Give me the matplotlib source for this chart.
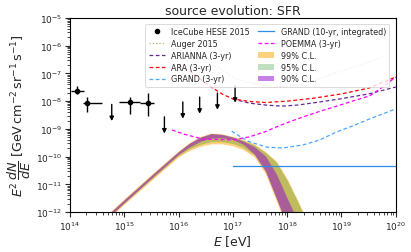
import numpy as np
import matplotlib
matplotlib.use("Agg")
import matplotlib.pyplot as plt
from matplotlib.lines import Line2D

# IceCube HESE 2015 data points (E in eV, E^2 dN/dE in GeV cm^-2 sr^-1 s^-1)
hese_E = [1.35e14, 2.1e14, 1.26e15, 2.7e15]
hese_E_lo = [1.05e14, 1.75e14, 7.9e14, 1.95e15]
hese_E_hi = [1.8e14, 3.9e14, 1.95e15, 3.55e15]
hese_flux = [2.4e-8, 8.3e-9, 9.3e-9, 8.5e-9]
hese_flux_lo = [1.8e-8, 4.1e-9, 3.5e-9, 2.9e-9]
hese_flux_hi = [3.5e-8, 1.4e-8, 1.4e-8, 1.95e-8]

# HESE upper limits
ul_E = [5.9e14, 5.5e15, 1.2e16, 2.45e16, 5.2e16, 1.1e17]
ul_flux = [7.6e-9, 2.7e-9, 9.3e-9, 1.4e-8, 1.95e-8, 3.5e-8]

# sensitivities / limits (log10 E, log10 flux)
auger_logE = [16.5, 16.71, 17.07, 17.4, 17.74, 18.1, 18.5, 18.84, 19.3, 19.76]
auger_logF = [-6.6, -6.77, -7.2, -7.38, -7.49, -7.45, -7.25, -7.02, -6.72, -6.41]

arianna_logE = [17.0, 17.3, 17.6, 17.9, 18.2, 18.6, 19.0, 19.5, 20.0]
arianna_logF = [-7.92, -8.07, -8.14, -8.18, -8.14, -8.03, -7.91, -7.74, -7.49]

ara_logE = [16.0, 16.2, 16.4, 16.6, 16.8, 17.0, 17.3, 17.6, 18.0, 18.5, 19.0, 19.5, 20.0]
ara_logF = [-6.7, -6.91, -7.2, -7.49, -7.74, -7.92, -8.01, -8.05, -8.0, -7.89, -7.74, -7.53, -7.13]

grand3_logE = [16.98, 17.15, 17.31, 17.63, 17.92, 18.29, 18.6, 18.91, 19.2, 19.52, 20.0]
grand3_logF = [-9.08, -9.3, -9.47, -9.66, -9.69, -9.58, -9.4, -9.11, -8.9, -8.64, -8.28]

grand10_E = [1e17, 1e20]
grand10_flux = [4.5e-11, 4.5e-11]

poemma_logE = [15.88, 16.1, 16.45, 16.7, 17.0, 17.3, 17.6, 17.9, 18.29, 18.6, 18.91, 19.2, 19.52, 19.76, 20.0]
poemma_logF = [-9.04, -9.19, -9.37, -9.38, -9.4, -9.29, -9.1, -8.85, -8.57, -8.37, -8.18, -8.0, -7.81, -7.49, -7.13]

# model confidence bands (log10 E grid, log10 flux edges)
band_logE = [14.6, 15.0, 15.5, 16.0, 16.2, 16.4, 16.6, 16.8, 17.0, 17.2, 17.4, 17.6, 17.8, 18.0, 18.2, 18.4]
cl90_hi = [-12.28, -11.56, -10.68, -9.82, -9.52, -9.30, -9.17, -9.20, -9.30, -9.45, -9.65, -9.98, -10.62, -11.5, -12.35, -13.2]
cl90_lo = [-12.38, -11.66, -10.78, -9.92, -9.65, -9.45, -9.33, -9.32, -9.38, -9.57, -9.92, -10.52, -11.5, -12.5, -13.5, -14.5]
cl95_hi = [-12.28, -11.56, -10.68, -9.82, -9.52, -9.30, -9.17, -9.20, -9.29, -9.42, -9.58, -9.85, -10.2, -10.85, -11.65, -12.5]
cl95_lo = [-12.40, -11.68, -10.81, -9.96, -9.72, -9.56, -9.46, -9.46, -9.53, -9.68, -9.95, -10.52, -11.5, -12.5, -13.5, -14.5]
cl99_hi = [-12.24, -11.52, -10.64, -9.79, -9.49, -9.27, -9.15, -9.18, -9.27, -9.39, -9.55, -9.82, -10.16, -10.8, -11.6, -12.45]
cl99_lo = [-12.44, -11.72, -10.86, -10.01, -9.78, -9.63, -9.54, -9.54, -9.61, -9.76, -10.02, -10.62, -11.6, -12.6, -13.6, -14.6]

text_c = "#262626"
plt.rcParams.update({
    "font.family": "DejaVu Sans",
    "font.size": 7,
    "text.color": text_c,
    "axes.labelcolor": text_c,
    "xtick.color": text_c,
    "ytick.color": text_c,
    "axes.linewidth": 0.8,
})

fig = plt.figure(figsize=(4.11, 2.53), dpi=100)
ax = fig.add_axes([0.170, 0.158, 0.793, 0.767])

bE = 10 ** np.array(band_logE)
ax.fill_between(bE, 10 ** np.array(cl99_lo), 10 ** np.array(cl99_hi),
                color="orange", alpha=0.5, lw=0, label="99% C.L.")
ax.fill_between(bE, 10 ** np.array(cl95_lo), 10 ** np.array(cl95_hi),
                color="green", alpha=0.25, lw=0, label="95% C.L.")
ax.fill_between(bE, 10 ** np.array(cl90_lo), 10 ** np.array(cl90_hi),
                color="darkviolet", alpha=0.5, lw=0, label="90% C.L.")

# HESE points
xerr = [np.array(hese_E) - np.array(hese_E_lo), np.array(hese_E_hi) - np.array(hese_E)]
yerr = [np.array(hese_flux) - np.array(hese_flux_lo), np.array(hese_flux_hi) - np.array(hese_flux)]
ax.errorbar(hese_E, hese_flux, xerr=xerr, yerr=yerr, fmt="o", color="black",
            ms=3, elinewidth=1, capsize=0)
for e, f in zip(ul_E, ul_flux):
    ax.annotate("", xy=(e, f * 10 ** -0.6), xytext=(e, f),
                arrowprops=dict(arrowstyle="-|>", color="black", lw=1,
                                mutation_scale=6, shrinkA=0, shrinkB=0))
hese_handle = Line2D([], [], ls="none", marker="o", ms=3, color="black")

ax.plot(10 ** np.array(auger_logE), 10 ** np.array(auger_logF), ls=":", color="olivedrab",
        lw=0.9, alpha=0.6, label="Auger 2015")
ax.plot(10 ** np.array(arianna_logE), 10 ** np.array(arianna_logF), ls="--", color="indigo",
        lw=0.9, alpha=0.85, dashes=(3, 2), label="ARIANNA (3-yr)")
ax.plot(10 ** np.array(ara_logE), 10 ** np.array(ara_logF), ls="--", color="red",
        lw=0.9, dashes=(3, 2), label="ARA (3-yr)")
ax.plot(10 ** np.array(grand3_logE), 10 ** np.array(grand3_logF), ls="--", color="dodgerblue",
        lw=0.9, alpha=0.8, dashes=(3, 2), label="GRAND (3-yr)")
ax.plot(grand10_E, grand10_flux, color="#2f8ce6", lw=0.9, label="GRAND (10-yr, integrated)")
ax.plot(10 ** np.array(poemma_logE), 10 ** np.array(poemma_logF), ls="--", color="magenta",
        lw=0.9, dashes=(3, 2), label="POEMMA (3-yr)")

ax.set_xscale("log")
ax.set_yscale("log")
ax.set_xlim(1e14, 1e20)
ax.set_ylim(1e-12, 1e-5)
ax.tick_params(which="major", length=3.5, width=0.8, labelsize=6.5, pad=2)
ax.tick_params(which="minor", length=2, width=0.6)
ax.yaxis.set_minor_locator(matplotlib.ticker.LogLocator(base=10, subs=np.arange(2, 10), numticks=20))
ax.yaxis.set_minor_formatter(matplotlib.ticker.NullFormatter())

ax.set_xlabel(r"$E$ [eV]", fontsize=9, labelpad=1)
ax.set_ylabel(r"$E^2\,\dfrac{dN}{dE}$ [GeV$\,$cm$^{-2}\,$sr$^{-1}\,$s$^{-1}$]", fontsize=9.2, labelpad=2)
ax.set_title("source evolution: SFR", fontsize=9, pad=3)

handles, labels = ax.get_legend_handles_labels()
hmap = dict(zip(labels, handles))
hmap["IceCube HESE 2015"] = hese_handle
order = ["IceCube HESE 2015", "Auger 2015", "ARIANNA (3-yr)", "ARA (3-yr)", "GRAND (3-yr)",
         "GRAND (10-yr, integrated)", "POEMMA (3-yr)", "99% C.L.", "95% C.L.", "90% C.L."]
leg = ax.legend([hmap[k] for k in order], order, ncol=2, loc="upper right", fontsize=5.8,
                frameon=True, framealpha=0.8, borderpad=0.4, labelspacing=0.35,
                handlelength=2.0, columnspacing=1.0, handletextpad=0.8,
                bbox_to_anchor=(0.992, 0.99))
leg.get_frame().set_linewidth(0.6)

fig.savefig("out.png", dpi=100)
